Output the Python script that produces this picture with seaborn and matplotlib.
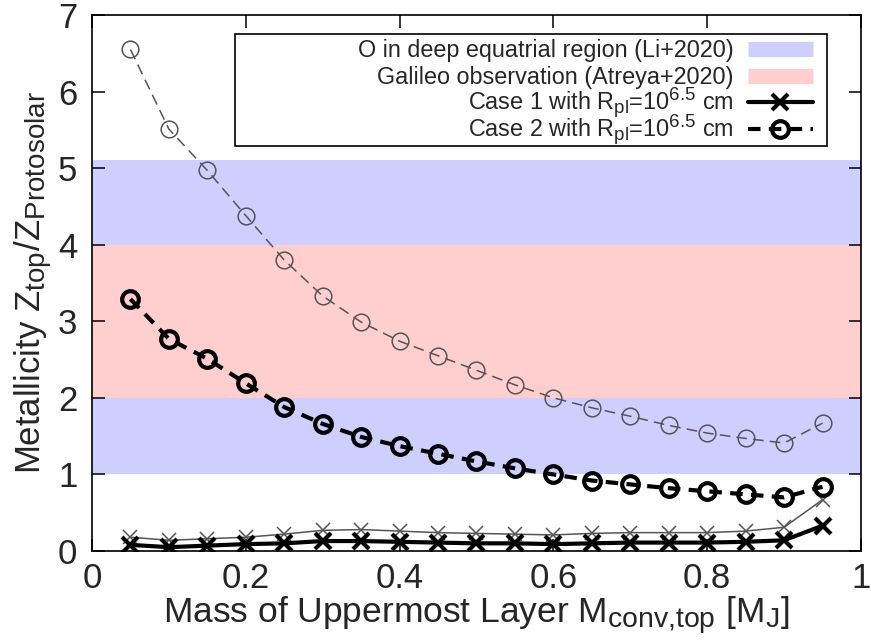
import numpy as np
import pandas as pd
import matplotlib
matplotlib.use("Agg")
import matplotlib.pyplot as plt
import matplotlib._mathtext as mathtext_core
from matplotlib.patches import Rectangle
from matplotlib.lines import Line2D
from matplotlib.legend_handler import HandlerLine2D
import seaborn as sns

sns.set_style("ticks")
plt.rcParams['font.family'] = ['Liberation Sans', 'DejaVu Sans']
plt.rcParams['mathtext.fontset'] = 'custom'
plt.rcParams['mathtext.rm'] = 'Liberation Sans'
plt.rcParams['mathtext.it'] = 'Liberation Sans'
plt.rcParams['mathtext.default'] = 'regular'
# gnuplot style sub/superscripts are a bit bigger than matplotlib's
mathtext_core.SHRINK_FACTOR = 0.8

# x: mass of uppermost layer
m_top = [0.05, 0.10, 0.15, 0.20, 0.25, 0.30, 0.35, 0.40, 0.45, 0.50,
         0.55, 0.60, 0.65, 0.70, 0.75, 0.80, 0.85, 0.90, 0.95]

# case 2, gray (thin dashed, open circles)
case2_gray = [6.55, 5.51, 4.97, 4.38, 3.80, 3.33, 2.99, 2.74, 2.55, 2.36,
              2.17, 2.00, 1.87, 1.76, 1.64, 1.54, 1.47, 1.41, 1.67]
# case 2 with R_pl = 10^6.5 cm (bold dashed, open circles)
case2_black = [3.29, 2.77, 2.51, 2.19, 1.88, 1.66, 1.49, 1.37, 1.27, 1.17,
               1.08, 1.00, 0.92, 0.87, 0.82, 0.78, 0.74, 0.70, 0.84]
# case 1, gray (thin solid, x)
case1_gray = [0.18, 0.14, 0.16, 0.18, 0.22, 0.27, 0.28, 0.26, 0.24, 0.23,
              0.22, 0.21, 0.23, 0.24, 0.24, 0.24, 0.26, 0.31, 0.67]
# case 1 with R_pl = 10^6.5 cm (bold solid, x)
case1_black = [0.08, 0.05, 0.07, 0.09, 0.10, 0.13, 0.13, 0.12, 0.11, 0.10,
               0.10, 0.09, 0.10, 0.11, 0.11, 0.11, 0.12, 0.14, 0.33]

# observational ranges
li2020 = (1.0, 5.1)
atreya2020 = (2.0, 4.0)

blue_band = "#cfcfff"
pink_band = "#ffcfcf"
gray = "#555555"


class KeySample(HandlerLine2D):
    # gnuplot puts the key sample level with the middle of the text
    def create_artists(self, legend, orig_handle, xdescent, ydescent, width,
                       height, fontsize, trans):
        artists = super().create_artists(legend, orig_handle, xdescent, ydescent,
                                         width, height, fontsize, trans)
        for a in artists:
            a.set_ydata(np.asarray(a.get_ydata()) - 0.2 * fontsize)
        return artists


df = pd.DataFrame({"m": m_top, "c2g": case2_gray, "c2b": case2_black,
                   "c1g": case1_gray, "c1b": case1_black})

fig = plt.figure(figsize=(8.71, 6.41), dpi=100)
ax = fig.add_axes([0.1056, 0.1404, 0.8829, 0.8362])

ax.axhspan(li2020[0], li2020[1], color=blue_band, lw=0, zorder=0)
ax.axhspan(atreya2020[0], atreya2020[1], color=pink_band, lw=0, zorder=0.5)

sns.lineplot(data=df, x="m", y="c2g", ax=ax, color=gray, lw=1.1,
             linestyle=(0, (7, 4)), marker="o", markersize=12,
             markerfacecolor="none", markeredgecolor=gray, markeredgewidth=1.1)
sns.lineplot(data=df, x="m", y="c1g", ax=ax, color=gray, lw=1.1,
             marker="x", markersize=10, markeredgecolor=gray, markeredgewidth=1.1)
sns.lineplot(data=df, x="m", y="c1b", ax=ax, color="black", lw=3,
             marker="x", markersize=11, markeredgecolor="black", markeredgewidth=3,
             label="Case 1 with R$_{pl}$=10$^{6.5}$ cm")
sns.lineplot(data=df, x="m", y="c2b", ax=ax, color="black", lw=3,
             linestyle=(0, (3, 2)), marker="o", markersize=12,
             markerfacecolor="none", markeredgecolor="black", markeredgewidth=3,
             label="Case 2 with R$_{pl}$=10$^{6.5}$ cm")

ax.set_xlim(0, 1)
ax.set_ylim(0, 7)
ax.set_xticks([0, 0.2, 0.4, 0.6, 0.8, 1])
ax.set_xticklabels(["0", "0.2", "0.4", "0.6", "0.8", "1"])
ax.set_yticks(range(0, 8))
ax.tick_params(direction="in", top=True, right=True, length=9, width=1.1,
               labelsize=25, color="black")
ax.tick_params(axis="x", pad=8)
ax.tick_params(axis="y", pad=10.5)
for s in ax.spines.values():
    s.set_linewidth(1.2)
    s.set_color("black")
    s.set_zorder(5)

ax.set_xlabel("Mass of Uppermost Layer M$_{conv{,}top}$ [M$_{J}$]", fontsize=25.5, labelpad=0)
ax.set_ylabel("Metallicity Z$_{top}$/Z$_{Protosolar}$", fontsize=25, labelpad=2)

# gnuplot-like key: wide box, labels right aligned next to the samples
handles, labels = ax.get_legend_handles_labels()
band_keys = [Line2D([], [], color=blue_band, lw=11, solid_capstyle="butt"),
             Line2D([], [], color=pink_band, lw=11, solid_capstyle="butt")]
band_labels = ["O in deep equatrial region (Li+2020)",
               "Galileo observation (Atreya+2020)"]

ax.add_patch(Rectangle((0.186, 0.7556), 0.770, 0.209, transform=ax.transAxes,
                       facecolor="white", edgecolor="black", lw=1.2, zorder=9))
leg = ax.legend(band_keys + handles, band_labels + labels,
                loc="upper right", bbox_to_anchor=(0.9376, 0.9696), borderaxespad=0,
                markerfirst=False, fontsize=16.8, handlelength=2.8, handletextpad=0.6,
                handleheight=2.0, labelspacing=-0.394, borderpad=0, frameon=False,
                handler_map={Line2D: KeySample()})
leg.set_zorder(10)

fig.savefig("out.png", dpi=100)
